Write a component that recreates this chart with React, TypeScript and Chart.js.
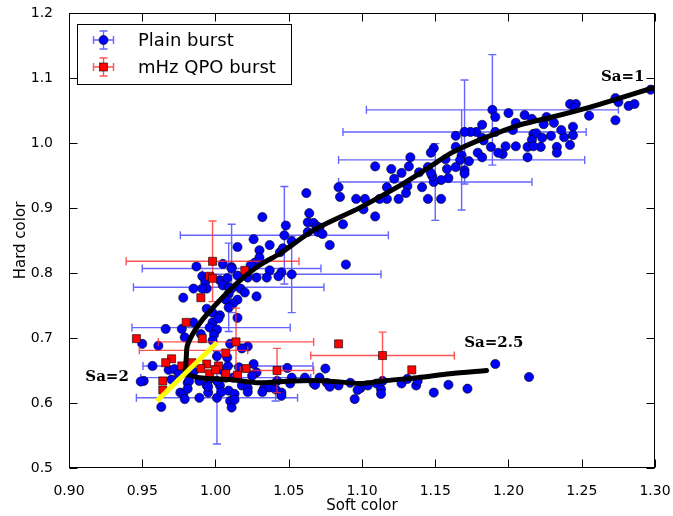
import React, { useEffect, useRef } from "react";
import { Chart, registerables } from "chart.js";

Chart.register(...registerables);

// ---------- data ----------
const xTicks = [0.9, 0.95, 1.0, 1.05, 1.1, 1.15, 1.2, 1.25, 1.3];
const yTicks = [0.5, 0.6, 0.7, 0.8, 0.9, 1.0, 1.1, 1.2];

const plainSoft = [
  1.297, 1.273, 1.275, 1.282, 1.286, 1.273, 1.255, 1.242, 1.246, 1.245, 1.231, 1.224, 1.244, 1.238, 1.244, 1.229,
  1.242, 1.233, 1.233, 1.222, 1.217, 1.216, 1.219, 1.213, 1.213, 1.205, 1.198, 1.196, 1.193, 1.211, 1.216, 1.205,
  1.2, 1.189, 1.191, 1.182, 1.178, 1.174, 1.182, 1.191, 1.188, 1.179, 1.182, 1.164, 1.164, 1.17, 1.168, 1.167,
  1.173, 1.164, 1.158, 1.17, 1.17, 1.159, 1.154, 1.149, 1.148, 1.149, 1.147, 1.145, 1.141, 1.145, 1.154, 1.183,
  1.217, 1.223, 1.236, 1.226, 1.203, 1.157, 1.139, 1.122,
  1.133, 1.132, 1.127, 1.12, 1.109, 1.117, 1.131, 1.13, 1.125, 1.117, 1.112, 1.147, 1.084, 1.085, 1.096, 1.102,
  1.101, 1.109, 1.087, 1.062, 1.064, 1.063, 1.067, 1.069, 1.063, 1.07, 1.078, 1.089, 1.032, 1.048, 1.047, 1.052,
  1.026, 1.015, 1.03, 1.037, 1.044, 1.046, 1.03, 1.027, 1.024, 1.011, 1.037, 1.045, 1.052, 1.028, 1.035, 1.043,
  1.071, 1.073,
  1.005, 0.987, 1.011, 0.991, 0.995, 1.003, 1.008, 1.015, 1.022, 0.993, 0.994, 0.985, 1.005, 1.011, 1.017, 1.02,
  1.028, 0.978, 1.009, 1.007, 1.015, 1.012, 1.009, 0.994, 0.998, 1.003, 1.015, 0.998, 1.002, 0.985, 0.996, 1.001,
  0.999, 0.977, 0.966, 0.998, 0.961, 0.95, 1.009, 0.991,
  0.957, 0.968, 0.972, 0.951, 0.97, 0.981, 0.976, 0.978, 0.982, 0.989, 0.995, 1.001, 1.01, 1.009, 1.013, 1.003,
  0.994, 0.996, 1.001, 0.989, 1.012, 1.018, 1.022, 1.026, 1.028, 1.025, 1.01, 1.022, 1.001, 0.979, 0.99, 1.018,
  1.008, 1.033, 1.037, 1.041, 1.045, 1.042, 1.049, 1.052, 1.051, 1.061, 1.067, 1.071, 1.075, 1.076, 1.084, 1.092,
  1.095, 1.099, 1.104, 1.11, 1.113, 1.114, 1.127, 1.131, 1.137, 1.138, 1.149, 1.159, 1.172, 1.191, 1.214, 0.963,
  0.979, 0.981, 0.995, 1.004, 1.011, 1.013, 1.022, 1.032, 1.045, 1.068, 1.078, 1.097, 1.113, 0.949, 1.0085, 1.007,
  0.985, 1.005, 1.016, 0.975,
];
const plainHard = [
  1.082, 1.069, 1.063, 1.057, 1.06, 1.035, 1.042, 1.06, 1.06, 1.054, 1.031, 1.029, 1.025, 1.009, 1.012, 1.011,
  0.997, 0.994, 0.985, 0.994, 1.014, 1.005, 1.015, 0.994, 0.978, 0.995, 0.995, 0.983, 0.985, 1.043, 1.037, 1.031,
  1.046, 1.051, 1.04, 1.028, 1.017, 1.017, 1.008, 1.017, 0.994, 0.985, 0.978, 1.011, 0.994, 1.017, 0.981, 0.974,
  0.972, 0.963, 0.96, 0.958, 0.953, 0.946, 0.943, 0.94, 0.949, 0.992, 0.985, 0.963, 0.932, 0.914, 0.914, 1.004,
  0.995, 1.008, 1.02, 1.04, 1.02, 0.975, 0.955, 0.945,
  0.978, 0.964, 0.954, 0.96, 0.964, 0.932, 0.934, 0.923, 0.914, 0.914, 0.914, 0.954, 0.932, 0.917, 0.914, 0.914,
  0.898, 0.887, 0.875, 0.923, 0.892, 0.878, 0.877, 0.872, 0.863, 0.863, 0.843, 0.813, 0.886, 0.873, 0.858, 0.849,
  0.852, 0.84, 0.835, 0.843, 0.832, 0.838, 0.824, 0.816, 0.812, 0.809, 0.804, 0.801, 0.798, 0.793, 0.793, 0.795,
  0.87, 0.86,
  0.814, 0.81, 0.807, 0.795, 0.793, 0.789, 0.792, 0.796, 0.793, 0.786, 0.776, 0.776, 0.781, 0.776, 0.776, 0.77,
  0.764, 0.762, 0.768, 0.759, 0.759, 0.753, 0.747, 0.745, 0.739, 0.735, 0.731, 0.724, 0.73, 0.724, 0.716, 0.713,
  0.705, 0.714, 0.714, 0.696, 0.688, 0.691, 0.778, 0.776,
  0.657, 0.651, 0.652, 0.634, 0.636, 0.631, 0.616, 0.614, 0.634, 0.608, 0.616, 0.608, 0.603, 0.619, 0.614, 0.627,
  0.627, 0.637, 0.634, 0.634, 0.639, 0.627, 0.623, 0.66, 0.647, 0.642, 0.691, 0.687, 0.672, 0.701, 0.706, 0.684,
  0.67, 0.622, 0.624, 0.621, 0.616, 0.634, 0.654, 0.639, 0.63, 0.639, 0.63, 0.639, 0.653, 0.631, 0.627, 0.631,
  0.606, 0.623, 0.627, 0.63, 0.621, 0.634, 0.63, 0.637, 0.627, 0.634, 0.616, 0.628, 0.622, 0.66, 0.64, 0.594,
  0.606, 0.622, 0.625, 0.617, 0.593, 0.605, 0.617, 0.617, 0.611, 0.628, 0.625, 0.62, 0.614, 0.633, 0.657, 0.639,
  0.648, 0.65, 0.655, 0.645,
];

// plain bursts with error bars
const plainErrSoft = [1.189, 1.17, 1.168, 1.15, 1.047, 1.052, 1.011, 1.009, 0.997, 1.001, 1.041, 1.0085, 1.007];
const plainErrHard = [1.051, 1.017, 0.974, 0.94, 0.858, 0.798, 0.807, 0.778, 0.716, 0.608, 0.617, 0.657, 0.639];
const plainErrDSoft = [0.086, 0.083, 0.084, 0.066, 0.071, 0.061, 0.061, 0.065, 0.054, 0.055, 0, 0.058, 0.058];
const plainErrDHard = [0.085, 0.08, 0.077, 0.059, 0.075, 0.059, 0.068, 0.068, 0, 0.071, 0.014, 0, 0];

const qpoSoft = [
  0.998, 0.996, 0.998, 0.99, 0.98, 0.946, 0.991, 1.014, 1.02, 1.084, 1.007, 0.97, 0.966, 0.984, 0.994, 1.002,
  1.021, 0.996, 1.007, 1.015, 0.964, 0.964, 1.114, 1.134, 1.042, 0.977, 0.99, 1.0,
];
const qpoHard = [
  0.818, 0.795, 0.792, 0.762, 0.724, 0.699, 0.699, 0.694, 0.804, 0.691, 0.677, 0.668, 0.662, 0.662, 0.66, 0.657,
  0.653, 0.645, 0.645, 0.643, 0.634, 0.62, 0.673, 0.651, 0.65, 0.657, 0.653, 0.651,
];
const qpoErrSoft = [0.998, 1.014, 1.114, 1.042, 0.985];
const qpoErrHard = [0.818, 0.694, 0.673, 0.65, 0.681];
const qpoErrDSoft = [0.059, 0.053, 0.049, 0.025, 0.037];
const qpoErrDHard = [0.062, 0.052, 0.036, 0.034, 0];

const sa1Soft = [0.979, 0.98, 0.981, 0.989, 1.003, 1.017, 1.03, 1.044, 1.067, 1.099, 1.124, 1.146, 1.162, 1.185, 1.208, 1.23, 1.254, 1.276, 1.299];
const sa1Hard = [0.645, 0.668, 0.69, 0.722, 0.758, 0.789, 0.812, 0.83, 0.866, 0.901, 0.932, 0.963, 0.986, 1.009, 1.028, 1.04, 1.054, 1.069, 1.085];
const sa25Soft = [0.979, 0.989, 1.01, 1.03, 1.053, 1.076, 1.099, 1.114, 1.138, 1.16, 1.185];
const sa25Hard = [0.645, 0.639, 0.636, 0.631, 0.634, 0.634, 0.63, 0.634, 0.639, 0.645, 0.65];
const sa2Soft = [0.96, 1.001];
const sa2Hard = [0.603, 0.693];

const labelText = ["Sa=1", "Sa=2", "Sa=2.5"];
const labelSoft = [1.278, 0.926, 1.19];
const labelHard = [1.102, 0.64, 0.692];

const legendNames = ["Plain burst", "mHz QPO burst"];

const BLUE = "#0000ff";
const RED = "#ff0000";
const BLUE_ERR = "rgba(50,50,255,0.75)";
const RED_ERR = "rgba(255,40,40,0.8)";

const pts = (xs: number[], ys: number[]) => xs.map((x, i) => ({ x, y: ys[i] }));

function drawErr(chart: any, xs: number[], ys: number[], dxs: number[], dys: number[], color: string) {
  const { ctx } = chart;
  const sx = chart.scales.x;
  const sy = chart.scales.y;
  const cap = 4;
  ctx.save();
  ctx.strokeStyle = color;
  ctx.lineWidth = 1.4;
  ctx.beginPath();
  for (let i = 0; i < xs.length; i++) {
    const px = sx.getPixelForValue(xs[i]);
    const py = sy.getPixelForValue(ys[i]);
    if (dxs[i] > 0) {
      const l = sx.getPixelForValue(xs[i] - dxs[i]);
      const r = sx.getPixelForValue(xs[i] + dxs[i]);
      ctx.moveTo(l, py); ctx.lineTo(r, py);
      ctx.moveTo(l, py - cap); ctx.lineTo(l, py + cap);
      ctx.moveTo(r, py - cap); ctx.lineTo(r, py + cap);
    }
    if (dys[i] > 0) {
      const t = sy.getPixelForValue(ys[i] + dys[i]);
      const b = sy.getPixelForValue(ys[i] - dys[i]);
      ctx.moveTo(px, t); ctx.lineTo(px, b);
      ctx.moveTo(px - cap, t); ctx.lineTo(px + cap, t);
      ctx.moveTo(px - cap, b); ctx.lineTo(px + cap, b);
    }
  }
  ctx.stroke();
  ctx.restore();
}

const decorPlugin = {
  id: "decor",
  beforeDatasetDraw(chart: any, args: any) {
    if (args.index === 0) drawErr(chart, plainErrSoft, plainErrHard, plainErrDSoft, plainErrDHard, BLUE_ERR);
    if (args.index === 1) drawErr(chart, qpoErrSoft, qpoErrHard, qpoErrDSoft, qpoErrDHard, RED_ERR);
  },
  afterDraw(chart: any) {
    const { ctx, chartArea: a } = chart;
    const sx = chart.scales.x;
    const sy = chart.scales.y;
    ctx.save();
    ctx.strokeStyle = "#000";
    ctx.lineWidth = 1;
    const L = Math.round(a.left) + 0.5, R = Math.round(a.right) - 0.5;
    const T = Math.round(a.top) + 0.5, B = Math.round(a.bottom) - 0.5;
    ctx.strokeRect(L, T, R - L, B - T);
    const tl = 8;
    ctx.beginPath();
    xTicks.forEach((v) => {
      const p = Math.round(sx.getPixelForValue(v)) + 0.5;
      ctx.moveTo(p, B); ctx.lineTo(p, B - tl);
      ctx.moveTo(p, T); ctx.lineTo(p, T + tl);
    });
    yTicks.forEach((v) => {
      const p = Math.round(sy.getPixelForValue(v)) + 0.5;
      ctx.moveTo(L, p); ctx.lineTo(L + tl, p);
      ctx.moveTo(R, p); ctx.lineTo(R - tl, p);
    });
    ctx.stroke();

    ctx.fillStyle = "#000";
    ctx.font = '15px "DejaVu Sans"';
    ctx.textAlign = "center";
    ctx.textBaseline = "middle";
    ctx.fillText("Soft color", (a.left + a.right) / 2, 506);
    ctx.save();
    ctx.translate(21, (a.top + a.bottom) / 2);
    ctx.rotate(-Math.PI / 2);
    ctx.fillText("Hard color", 0, 0);
    ctx.restore();

    ctx.font = 'bold 15px "DejaVu Serif"';
    labelText.forEach((t, i) => {
      ctx.fillText(t, sx.getPixelForValue(labelSoft[i]), sy.getPixelForValue(labelHard[i]));
    });

    ctx.fillStyle = "#fff";
    ctx.fillRect(77.5, 24.5, 214, 60);
    ctx.strokeStyle = "#000";
    ctx.lineWidth = 1;
    ctx.strokeRect(77.5, 24.5, 214, 60);
    const rows = [40, 67];
    rows.forEach((yy, i) => {
      const cx = 103.5;
      ctx.strokeStyle = i === 0 ? BLUE_ERR : RED_ERR;
      ctx.lineWidth = 1.4;
      ctx.beginPath();
      ctx.moveTo(cx - 10, yy); ctx.lineTo(cx + 10, yy);
      ctx.moveTo(cx - 10, yy - 4); ctx.lineTo(cx - 10, yy + 4);
      ctx.moveTo(cx + 10, yy - 4); ctx.lineTo(cx + 10, yy + 4);
      ctx.moveTo(cx, yy - 9); ctx.lineTo(cx, yy + 9);
      ctx.moveTo(cx - 4, yy - 9); ctx.lineTo(cx + 4, yy - 9);
      ctx.moveTo(cx - 4, yy + 9); ctx.lineTo(cx + 4, yy + 9);
      ctx.stroke();
      ctx.strokeStyle = "#000";
      ctx.lineWidth = 0.6;
      if (i === 0) {
        ctx.fillStyle = BLUE;
        ctx.beginPath();
        ctx.arc(cx, yy, 4.5, 0, Math.PI * 2);
        ctx.fill();
        ctx.stroke();
      } else {
        ctx.fillStyle = RED;
        ctx.fillRect(cx - 4, yy - 4, 8, 8);
        ctx.strokeRect(cx - 4, yy - 4, 8, 8);
      }
      ctx.fillStyle = "#000";
      ctx.font = '18px "DejaVu Sans"';
      ctx.textAlign = "left";
      ctx.textBaseline = "middle";
      ctx.fillText(legendNames[i], 138, yy + 1);
    });
    ctx.restore();
  },
};

export default function App() {
  const ref = useRef<HTMLCanvasElement>(null);
  useEffect(() => {
    if (!ref.current) return;
    const chart = new Chart(ref.current, {
      type: "scatter",
      data: {
        datasets: [
          {
            label: legendNames[0],
            data: pts(plainSoft, plainHard),
            backgroundColor: BLUE,
            borderColor: "#000",
            borderWidth: 0.6,
            pointRadius: 4.6,
            order: 4,
          },
          {
            label: legendNames[1],
            data: pts(qpoSoft, qpoHard),
            backgroundColor: RED,
            borderColor: "#000",
            borderWidth: 0.6,
            pointStyle: "rect",
            pointRadius: 5.7,
            order: 3,
          },
          {
            label: "Sa=1",
            data: pts(sa1Soft, sa1Hard),
            showLine: true,
            borderColor: "#000",
            borderWidth: 5,
            pointRadius: 0,
            tension: 0.3,
            borderCapStyle: "round",
            borderJoinStyle: "round",
            order: 2,
          } as any,
          {
            label: "Sa=2.5",
            data: pts(sa25Soft, sa25Hard),
            showLine: true,
            borderColor: "#000",
            borderWidth: 5,
            pointRadius: 0,
            tension: 0.3,
            borderCapStyle: "round",
            borderJoinStyle: "round",
            order: 2,
          } as any,
          {
            label: "Sa=2",
            data: pts(sa2Soft, sa2Hard),
            showLine: true,
            borderColor: "#ffff00",
            borderWidth: 5,
            pointRadius: 0,
            order: 1,
          },
        ],
      },
      options: {
        responsive: false,
        animation: false,
        devicePixelRatio: 1,
        layout: { padding: { top: 13, right: 18, left: 0, bottom: 0 } },
        plugins: { legend: { display: false }, tooltip: { enabled: false } },
        scales: {
          x: {
            type: "linear",
            min: 0.9,
            max: 1.3,
            grid: { display: false },
            border: { display: false },
            afterBuildTicks: (s: any) => { s.ticks = xTicks.map((v) => ({ value: v })); },
            afterFit: (s: any) => { s.height = 48; s.paddingLeft = 0; s.paddingRight = 0; },
            ticks: {
              color: "#000",
              padding: 7,
              maxRotation: 0,
              font: { family: "DejaVu Sans", size: 14 },
              callback: (v: any) => Number(v).toFixed(2),
            },
          },
          y: {
            type: "linear",
            min: 0.5,
            max: 1.2,
            grid: { display: false },
            border: { display: false },
            afterBuildTicks: (s: any) => { s.ticks = yTicks.map((v) => ({ value: v })); },
            afterFit: (s: any) => { s.width = 69; s.paddingTop = 0; s.paddingBottom = 0; },
            ticks: {
              color: "#000",
              padding: 8,
              font: { family: "DejaVu Sans", size: 14 },
              callback: (v: any) => Number(v).toFixed(1),
            },
          },
        },
      },
      plugins: [decorPlugin],
    });
    return () => chart.destroy();
  }, []);
  return (
    <div style={{ position: "absolute", left: 0, top: 0, width: 673, height: 516, background: "#fff" }}>
      <canvas ref={ref} width={673} height={516} />
    </div>
  );
}
